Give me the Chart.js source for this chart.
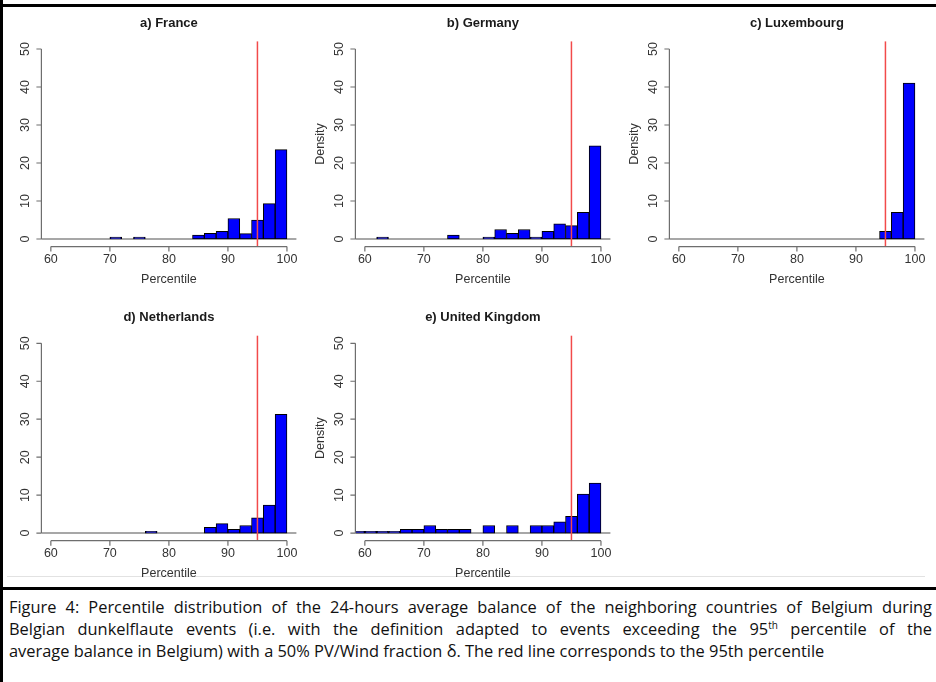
<!DOCTYPE html>
<html>
<head>
<meta charset="utf-8">
<script src="https://cdn.jsdelivr.net/npm/chart.js@4"></script>
<style>
  body { margin: 0; background: #fff; }
  #page { position: relative; width: 936px; height: 682px; overflow: hidden; background: #fff; }
  .panel { position: absolute; }
  .rule { position: absolute; background: #000; }
  #caption {
    position: absolute; left: 9px; top: 596px; width: 923px;
    font-family: "Open Sans", "Noto Sans", sans-serif; font-size: 16.4px; line-height: 22px; color: #111;
  }
  #caption .j { text-align: justify; text-align-last: justify; white-space: nowrap; }
  #caption sup { font-size: 10px; line-height: 0; }
</style>
</head>
<body>
<div id="page">
  <div class="rule" style="left:0;top:4px;width:936px;height:3px"></div>
  <div class="rule" style="left:0;top:0;width:3px;height:682px"></div>
  <div class="rule" style="left:7px;top:576px;width:918px;height:1px;background:#e2e2e2"></div>
  <div class="rule" style="left:0;top:587px;width:936px;height:3px"></div>

  <canvas class="panel" id="chartA" width="314" height="290" style="left:-9px;top:5px"></canvas>
  <canvas class="panel" id="chartB" width="314" height="290" style="left:305px;top:5px"></canvas>
  <canvas class="panel" id="chartC" width="314" height="290" style="left:619px;top:5px"></canvas>
  <canvas class="panel" id="chartD" width="314" height="278" style="left:-9px;top:299px"></canvas>
  <canvas class="panel" id="chartE" width="314" height="278" style="left:305px;top:299px"></canvas>

  <div id="caption">
    <div class="j">Figure 4: Percentile distribution of the 24-hours average balance of the neighboring countries of Belgium during</div>
    <div class="j">Belgian dunkelflaute events (i.e. with the definition adapted to events exceeding the 95<sup>th</sup> percentile of the</div>
    <div>average balance in Belgium) with a 50% PV/Wind fraction δ. The red line corresponds to the 95th percentile</div>
  </div>
</div>

<script>
// --- datos: bins de 2 puntos de percentil (inicio de cada bin) ---
const binStarts = [58, 60, 62, 64, 66, 68, 70, 72, 74, 76, 78, 80, 82, 84, 86, 88, 90, 92, 94, 96, 98];
const binWidth = 2;

const franceDensity      = [0, 0, 0, 0, 0, 0, 0.5, 0, 0.5, 0, 0, 0, 0, 1, 1.5, 2, 5.4, 1.4, 5, 9.3, 23.5];
const germanyDensity     = [0, 0, 0.5, 0, 0, 0, 0, 0, 1, 0, 0, 0.5, 2.5, 1.5, 2.5, 0.5, 2, 4, 3.5, 7, 24.5];
const luxembourgDensity  = [0, 0, 0, 0, 0, 0, 0, 0, 0, 0, 0, 0, 0, 0, 0, 0, 0, 0, 2, 7, 41];
const netherlandsDensity = [0, 0, 0, 0, 0, 0, 0, 0, 0, 0.5, 0, 0, 0, 0, 1.5, 2.5, 1, 2, 4, 7.4, 31.3];
const ukDensity          = [0.5, 0.5, 0.5, 0.5, 1, 1, 2, 1, 1, 1, 0, 2, 0, 2, 0, 2, 2, 3, 4.4, 10.3, 13.2];

const panelTitles = ['a) France', 'b) Germany', 'c) Luxembourg', 'd) Netherlands', 'e) United Kingdom'];
const xTicks = [60, 70, 80, 90, 100];
const yTicks = [0, 10, 20, 30, 40, 50];
const cutoffPercentile = 95;

// Ejes estilo R dibujados con las escalas de Chart.js
const rAxesPlugin = {
    id: 'rAxes',
    beforeDatasetsDraw(chart) {
        const { ctx, chartArea, scales } = chart;
        const y0 = scales.y.getPixelForValue(0);
        ctx.save();
        ctx.strokeStyle = '#8a8a8a';
        ctx.lineWidth = 1.5;
        ctx.beginPath();
        ctx.moveTo(chartArea.left, y0);
        ctx.lineTo(chartArea.right, y0);
        ctx.stroke();
        ctx.restore();
    },
    afterDatasetsDraw(chart) {
        // linea roja del percentil 95
        const { ctx, chartArea, scales } = chart;
        const xr = scales.x.getPixelForValue(cutoffPercentile);
        ctx.save();
        ctx.strokeStyle = '#f24a4a';
        ctx.lineWidth = 1.5;
        ctx.beginPath();
        ctx.moveTo(xr, chartArea.top);
        ctx.lineTo(xr, chartArea.bottom);
        ctx.stroke();
        ctx.restore();
    },
    afterDraw(chart, args, opts) {
        const { ctx, chartArea, scales } = chart;
        const xs = scales.x, ys = scales.y;
        ctx.save();
        ctx.strokeStyle = '#6e6e6e';
        ctx.lineWidth = 1.2;
        ctx.fillStyle = '#333';
        ctx.font = '12.5px "Liberation Sans", Arial, sans-serif';

        // eje x
        const xa = chartArea.bottom;
        ctx.beginPath();
        ctx.moveTo(xs.getPixelForValue(xTicks[0]), xa);
        ctx.lineTo(xs.getPixelForValue(xTicks[xTicks.length - 1]), xa);
        xTicks.forEach(v => {
            const px = xs.getPixelForValue(v);
            ctx.moveTo(px, xa);
            ctx.lineTo(px, xa + 5);
        });
        ctx.stroke();
        ctx.textAlign = 'center';
        ctx.textBaseline = 'middle';
        xTicks.forEach(v => ctx.fillText(String(v), xs.getPixelForValue(v), xa + 13));
        ctx.fillText('Percentile', (chartArea.left + chartArea.right) / 2, xa + 33);

        // eje y
        const ya = chartArea.left;
        ctx.beginPath();
        ctx.moveTo(ya, ys.getPixelForValue(yTicks[0]));
        ctx.lineTo(ya, ys.getPixelForValue(yTicks[yTicks.length - 1]));
        yTicks.forEach(v => {
            const py = ys.getPixelForValue(v);
            ctx.moveTo(ya, py);
            ctx.lineTo(ya - 5, py);
        });
        ctx.stroke();
        yTicks.forEach(v => {
            ctx.save();
            ctx.translate(ya - 16, ys.getPixelForValue(v));
            ctx.rotate(-Math.PI / 2);
            ctx.fillText(String(v), 0, 0);
            ctx.restore();
        });
        if (opts.densityLabel) {
            ctx.save();
            ctx.translate(ya - 35, ys.getPixelForValue(25));
            ctx.rotate(-Math.PI / 2);
            ctx.fillText('Density', 0, 0);
            ctx.restore();
        }

        // titulo del panel
        ctx.fillStyle = '#1a1a1a';
        ctx.font = 'bold 13px "Liberation Sans", Arial, sans-serif';
        ctx.fillText(opts.title, (chartArea.left + chartArea.right) / 2, chartArea.top - 18);
        ctx.restore();
    }
};

function drawHistogram(canvasId, heights, title, densityLabel, padBottom, padTop) {
    const points = binStarts.map((start, i) => ({ x: start + binWidth / 2, y: heights[i] }));
    new Chart(document.getElementById(canvasId), {
        type: 'bar',
        data: {
            datasets: [{
                data: points,
                backgroundColor: '#0000ff',
                borderColor: '#000',
                borderWidth: 1,
                borderSkipped: false,
                barPercentage: 1,
                categoryPercentage: 1
            }]
        },
        options: {
            responsive: false,
            animation: false,
            devicePixelRatio: 1,
            layout: { padding: { left: 50.4, right: 8.6, top: padTop, bottom: padBottom } },
            plugins: {
                legend: { display: false },
                tooltip: { enabled: false },
                rAxes: { title: title, densityLabel: densityLabel }
            },
            scales: {
                x: {
                    type: 'linear', display: false, offset: false, min: 58.4, max: 101.6,
                    afterBuildTicks: s => { s.ticks = xTicks.map(v => ({ value: v })); }
                },
                y: {
                    display: false, min: -2, max: 52,
                    afterBuildTicks: s => { s.ticks = yTicks.map(v => ({ value: v })); }
                }
            }
        },
        plugins: [rAxesPlugin]
    });
}

document.addEventListener('DOMContentLoaded', () => {
    drawHistogram('chartA', franceDensity, panelTitles[0], false, 48.4, 36.4);
    drawHistogram('chartB', germanyDensity, panelTitles[1], true, 48.4, 36.4);
    drawHistogram('chartC', luxembourgDensity, panelTitles[2], true, 48.4, 36.4);
    drawHistogram('chartD', netherlandsDensity, panelTitles[3], false, 36.3, 36.7);
    drawHistogram('chartE', ukDensity, panelTitles[4], true, 36.3, 36.7);
});
</script>
</body>
</html>
